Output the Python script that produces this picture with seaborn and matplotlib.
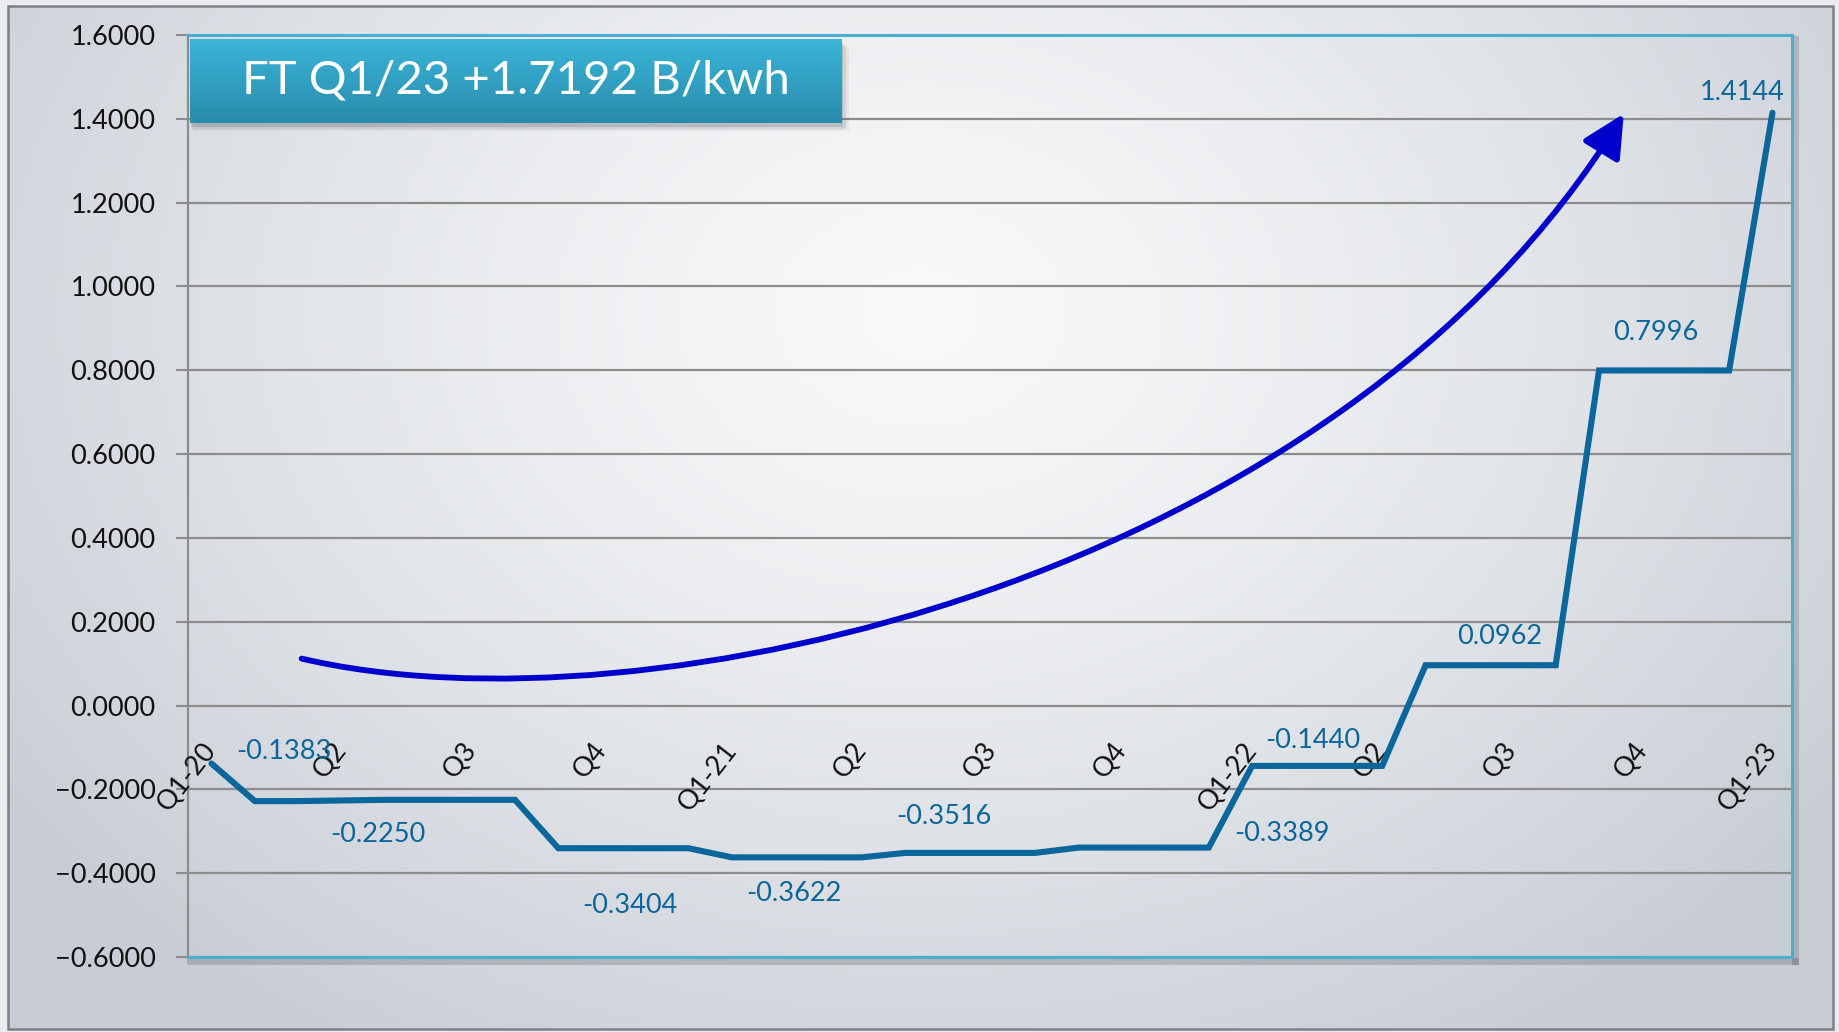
import numpy as np
import pandas as pd
import matplotlib
matplotlib.use('Agg')
import matplotlib.pyplot as plt
import matplotlib.patheffects as pe
from matplotlib.patches import FancyArrowPatch, Rectangle
from matplotlib.path import Path
from matplotlib import colors
import seaborn as sns

# ---- data: monthly Ft (Baht/kWh), Jan-2020 .. Jan-2023 ----
ft_values = [-0.1383,
             -0.2280, -0.2280, -0.2265, -0.2250, -0.2250, -0.2250, -0.2250,
             -0.3404, -0.3404, -0.3404, -0.3404,
             -0.3622, -0.3622, -0.3622, -0.3622,
             -0.3516, -0.3516, -0.3516, -0.3516,
             -0.3389, -0.3389, -0.3389, -0.3389,
             -0.1440, -0.1440, -0.1440, -0.1440,
             0.0962, 0.0962, 0.0962, 0.0962,
             0.7996, 0.7996, 0.7996, 0.7996,
             1.4144]
quarter_labels = ['Q1-20', 'Q2', 'Q3', 'Q4', 'Q1-21', 'Q2', 'Q3', 'Q4',
                  'Q1-22', 'Q2', 'Q3', 'Q4', 'Q1-23']
labelled_months = [0, 4, 8, 12, 16, 20, 24, 28, 32, 36]
y_ticks = [-0.6, -0.4, -0.2, 0.0, 0.2, 0.4, 0.6, 0.8, 1.0, 1.2, 1.4, 1.6]
title_text = 'FT Q1/23 +1.7192 B/kwh'

# ---- layout / style ----
# offset of each value label from its point (months, Ft)
label_offsets = [(1.68, 0.029), (-0.16, -0.083), (1.65, -0.136), (1.43, -0.086),
                 (0.9, 0.086), (4.7, 0.034), (1.4, 0.060), (1.7, 0.069),
                 (1.3, 0.091), (-0.7, 0.048)]
# control points of the decorative trend arrow (bezier)
arrow_pts = [(2.08, 0.112), (10.0, -0.08), (26.0, 0.30), (32.57, 1.412)]

line_color = '#0b669b'
W, H = 1839, 1032

sns.set_theme(style='white')
plt.rcParams['font.family'] = ['Lato', 'DejaVu Sans']

fig = plt.figure(figsize=(W / 100, H / 100), dpi=100)
fig.patch.set_facecolor('#e9ebee')

# background panel with a soft radial gradient
bg = fig.add_axes([0, 0, 1, 1], zorder=-10)
gx, gy = np.meshgrid(np.linspace(0, 1, 400), np.linspace(0, 1, 240))
r = np.sqrt(((gx - 0.5) / 0.62) ** 2 + ((gy - 0.30) / 0.85) ** 2)
r = np.clip(r, 0, 1)
c0 = np.array(colors.to_rgb('#f8f9fa'))
c1 = np.array(colors.to_rgb('#c8cdd5'))
img = c0 + (c1 - c0) * (r[..., None] ** 1.3)
px0, px1, py0, py1 = 8 / W, 1833 / W, 3 / H, 1026 / H
bg.imshow(img, extent=[px0, px1, py0, py1], origin='upper', aspect='auto')
bg.add_patch(Rectangle((px0, py0), px1 - px0, py1 - py0, fill=False,
                       edgecolor='#7d8086', lw=1.8))
bg.set_xlim(0, 1)
bg.set_ylim(0, 1)
bg.axis('off')

# main chart
ax = fig.add_axes([187.6 / W, 75 / H, (1792 - 187.6) / W, (997 - 75) / H])
ax.set_facecolor('none')
df = pd.DataFrame({'month': np.arange(len(ft_values)), 'ft': ft_values})
sns.lineplot(data=df, x='month', y='ft', ax=ax, color=line_color, lw=4.4,
             solid_joinstyle='miter', zorder=5)

ax.set_xlim(-0.55, 36.45)
ax.set_ylim(-0.6, 1.6)
ax.set_yticks(y_ticks)
ax.set_yticklabels([f'{v:.4f}'.replace('-', '\u2212') for v in y_ticks])
ax.set_xticks([])
ax.set_xlabel('')
ax.set_ylabel('')
ax.yaxis.grid(True, color='#8c8c8c', lw=1.6)
ax.tick_params(axis='y', left=True, length=9, width=1.5, color='#8c8c8c',
               pad=14, labelsize=19.5, labelcolor='#111111')

for side in ['top', 'right', 'bottom']:
    ax.spines[side].set_color('#4aafcf')
    ax.spines[side].set_linewidth(2.2)
ax.spines['left'].set_color('#8c8c8c')
ax.spines['left'].set_linewidth(1.6)
for side in ['right', 'bottom']:
    ax.spines[side].set_path_effects([pe.SimpleLineShadow(offset=(2, -3), alpha=0.18, linewidth=5),
                                      pe.Normal()])

# quarter labels drawn along the zero line
for i, lab in enumerate(quarter_labels):
    ax.text(i * 3, -0.095, lab, rotation=52, ha='right', va='center',
            rotation_mode='anchor', fontsize=19.5, color='#111111', zorder=4)

# value labels
for m, (dx, dy) in zip(labelled_months, label_offsets):
    ax.text(m + dx, ft_values[m] + dy, f'{ft_values[m]:.4f}', ha='center', va='center',
            fontsize=19.5, color=line_color, zorder=6)

# trend arrow
trend = Path(arrow_pts, [Path.MOVETO, Path.CURVE4, Path.CURVE4, Path.CURVE4])
ax.add_patch(FancyArrowPatch(path=trend, arrowstyle='-|>,head_length=1.3,head_width=0.65',
                             mutation_scale=20, color='#0000cc', lw=4.2, zorder=6))

# title box
tb = fig.add_axes([190 / W, 1 - 123 / H, (842 - 190) / W, (123 - 39) / H], zorder=10)
grad = np.linspace(0, 1, 100)[:, None, None]
top_c = np.array(colors.to_rgb('#3ab5d9'))
bot_c = np.array(colors.to_rgb('#2a8bab'))
tb.imshow(top_c + (bot_c - top_c) * grad * np.ones((1, 2, 1)), extent=[0, 1, 0, 1],
          aspect='auto', origin='upper')
tb.text(0.5, 0.5, title_text, ha='center', va='center', fontsize=34, color='white')
tb.set_xlim(0, 1)
tb.set_ylim(0, 1)
tb.axis('off')
for k, a in enumerate([0.18, 0.12, 0.07]):
    fig.patches.append(Rectangle(((191 + k) / W, 1 - (127 + 2 * k) / H), (652 + 2 * k) / W, 84 / H,
                                 transform=fig.transFigure, facecolor='#4a525c', alpha=a,
                                 edgecolor='none', zorder=9))

fig.savefig('out.png', dpi=100)
